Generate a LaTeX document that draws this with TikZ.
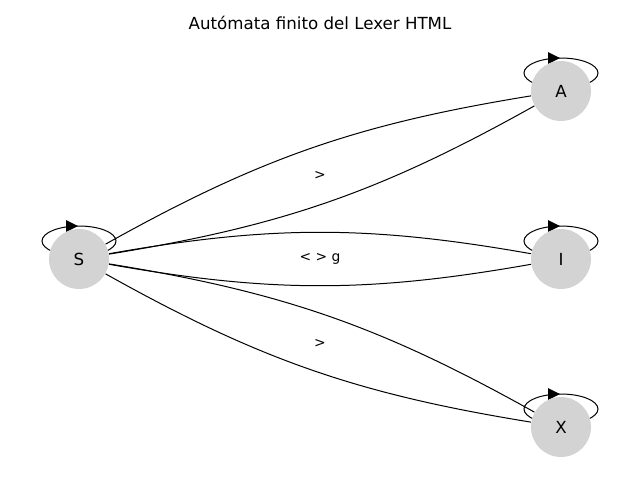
\documentclass[tikz,border=0pt]{standalone}
\usepackage{fontspec}
\setmainfont{DejaVu Sans}
\usetikzlibrary{calc}
\definecolor{nodegray}{RGB}{211,211,211}
\tikzstyle{state}=[circle, fill=nodegray, inner sep=0, minimum size=45pt, font=\fontsize{12.5}{15}\selectfont]
\tikzstyle{trans}=[draw, black, line width=0.75pt]
\tikzstyle{elabel}=[inner sep=1pt, fill=white, font=\fontsize{10.4}{12}\selectfont]
\tikzstyle{automaton}=[x=0.75pt, y=-0.75pt, line width=0.75pt,
                       % loops and tips above each state
                       selfloop/.style={draw, black, line width=0.75pt},
                       looptip/.style={fill, black}]

\begin{document}
\begin{tikzpicture}[automaton]
        \useasboundingbox (0, 0) rectangle (640, 480);
        \node[font=\fontsize{12.5}{15}\selectfont] (title) at (320, 23) {Autómata finito del Lexer HTML};
        \coordinate (pS) at (79, 259);
        \coordinate (pA) at (561, 91);
        \coordinate (pI) at (561, 259);
        \coordinate (pX) at (561, 427);
        % self loops, behind the states
        \draw[selfloop] ($(pS)+(0, -18)$) ellipse (37 and 15);
        \draw[selfloop] ($(pA)+(0, -18)$) ellipse (37 and 15);
        \draw[selfloop] ($(pI)+(0, -18)$) ellipse (37 and 15);
        \draw[selfloop] ($(pX)+(0, -18)$) ellipse (37 and 15);
        \fill[looptip] ($(pS)+(-13, -39)$) -- ($(pS)+(-1, -33)$) -- ($(pS)+(-13, -27)$) -- cycle;
        \fill[looptip] ($(pA)+(-13, -39)$) -- ($(pA)+(-1, -33)$) -- ($(pA)+(-13, -27)$) -- cycle;
        \fill[looptip] ($(pI)+(-13, -39)$) -- ($(pI)+(-1, -33)$) -- ($(pI)+(-13, -27)$) -- cycle;
        \fill[looptip] ($(pX)+(-13, -39)$) -- ($(pX)+(-1, -33)$) -- ($(pX)+(-13, -27)$) -- cycle;
        \node[state] (S) at (pS) {S};
        \node[state] (A) at (pA) {A};
        \node[state] (I) at (pI) {I};
        \node[state] (X) at (pX) {X};
        \draw[trans] (S) to[bend left=10] (A);
        \draw[trans] (S) to[bend right=10] (A);
        \draw[trans] (S) to[bend left=10] (I);
        \draw[trans] (S) to[bend right=10] (I);
        \draw[trans] (S) to[bend left=10] (X);
        \draw[trans] (S) to[bend right=10] (X);
        \path (S.center) -- node[elabel] {>} (A.center);
        \path (S.center) -- node[elabel] {< > g} (I.center);
        \path (S.center) -- node[elabel] {>} (X.center);
    \end{tikzpicture}
\end{document}
